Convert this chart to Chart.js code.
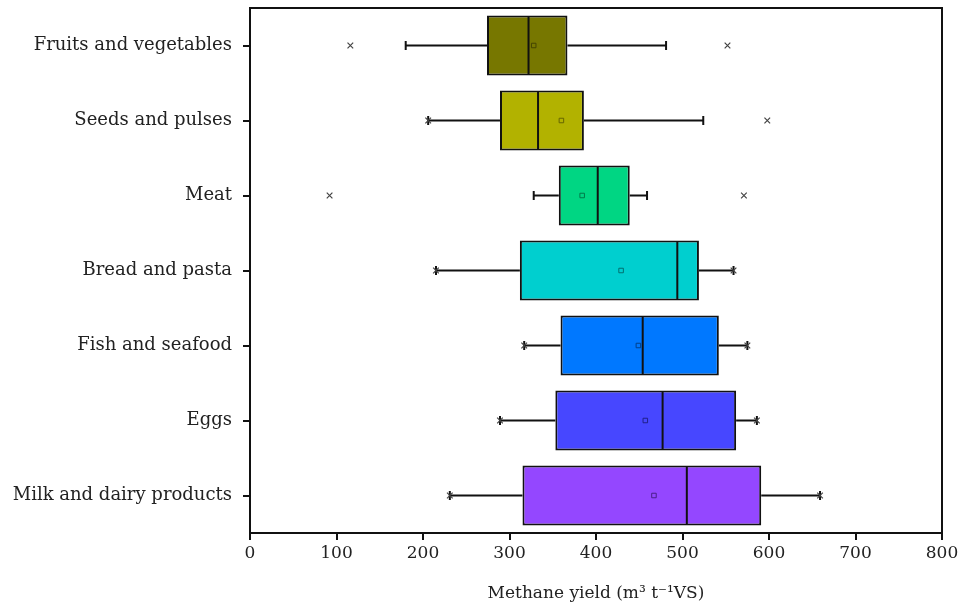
<!DOCTYPE html>
<html>
<head>
<meta charset="utf-8">
<script src="https://cdn.jsdelivr.net/npm/chart.js@4.4.0/dist/chart.umd.min.js"></script>
<style>
  html, body { margin: 0; padding: 0; background: #fff; }
  #wrap { width: 959px; height: 604px; }
</style>
</head>
<body>
<div id="wrap"><canvas id="chart"></canvas></div>
<script>
// --- données ---
const categories = ['Fruits and vegetables', 'Seeds and pulses', 'Meat', 'Bread and pasta',
    'Fish and seafood', 'Eggs', 'Milk and dairy products'];
const q1 = [274, 289, 357, 312, 359, 353, 315];
const median = [322, 333, 402, 494, 454, 477, 505];
const q3 = [367, 386, 439, 519, 542, 562, 591];
const mean = [328, 360, 384, 429, 449, 457, 467];
const whiskerLow = [180, 206, 328, 215, 317, 289, 231];
const whiskerHigh = [481, 524, 459, 559, 575, 586, 659];
const extremeLow = [116, 206, 92, 215, 317, 289, 231];
const extremeHigh = [552, 598, 571, 559, 575, 586, 659];
const xTicks = [0, 100, 200, 300, 400, 500, 600, 700, 800];

const boxColors = ['#777700', '#b2b200', '#00d683', '#00cfcf', '#0078ff', '#4747ff', '#9447ff'];
const meanColors = ['#444400', '#666600', '#007a4a', '#007070', '#00408a', '#20208a', '#4a1f8a'];

const serif = "'DejaVu Serif', 'Liberation Serif', serif";

// moustaches + médianes, dessinées via les échelles
const boxExtras = {
    id: 'boxExtras',
    afterDatasetDraw(chart, args) {
        if (args.index !== 0) return;
        const ctx = chart.ctx;
        const xs = chart.scales.x;
        const ys = chart.scales.y;
        const bars = args.meta.data;
        ctx.save();
        ctx.strokeStyle = '#111';
        ctx.lineWidth = 2;
        categories.forEach((c, i) => {
            const y = ys.getPixelForValue(i);
            const h = bars[i].height;
            const top = y - h / 2, bot = y + h / 2;
            // moustaches
            ctx.beginPath();
            ctx.moveTo(xs.getPixelForValue(whiskerLow[i]), y);
            ctx.lineTo(xs.getPixelForValue(q1[i]), y);
            ctx.moveTo(xs.getPixelForValue(q3[i]), y);
            ctx.lineTo(xs.getPixelForValue(whiskerHigh[i]), y);
            ctx.stroke();
            // embouts
            [whiskerLow[i], whiskerHigh[i]].forEach(v => {
                const px = xs.getPixelForValue(v);
                ctx.beginPath();
                ctx.moveTo(px, y - 4.5);
                ctx.lineTo(px, y + 4.5);
                ctx.stroke();
            });
            // médiane
            const mx = xs.getPixelForValue(median[i]);
            ctx.beginPath();
            ctx.moveTo(mx, top + 1);
            ctx.lineTo(mx, bot - 1);
            ctx.stroke();
        });
        ctx.restore();
    }
};

// cadre complet autour de la zone de tracé
const frame = {
    id: 'frame',
    afterDraw(chart) {
        const a = chart.chartArea;
        const ctx = chart.ctx;
        ctx.save();
        ctx.strokeStyle = '#111';
        ctx.lineWidth = 2;
        ctx.strokeRect(a.left, a.top, a.right - a.left, a.bottom - a.top);
        ctx.restore();
    }
};

const ctx = document.getElementById('chart').getContext('2d');
new Chart(ctx, {
    type: 'bar',
    data: {
        labels: categories,
        datasets: [
            {
                type: 'bar',
                label: 'IQR',
                indexAxis: 'y',
                data: categories.map((c, i) => [q1[i], q3[i]]),
                backgroundColor: boxColors,
                borderColor: '#111',
                borderWidth: 2,
                borderSkipped: false,
                barPercentage: 0.8,
                categoryPercentage: 1,
                order: 3
            },
            {
                type: 'scatter',
                label: 'Mean',
                data: categories.map((c, i) => ({ x: mean[i], y: c })),
                pointStyle: 'rect',
                pointRadius: 3.2,
                pointBackgroundColor: boxColors,
                pointBorderColor: meanColors,
                pointBorderWidth: 1,
                order: 1
            },
            {
                type: 'scatter',
                label: 'Extremes',
                data: categories.flatMap((c, i) => [{ x: extremeLow[i], y: c }, { x: extremeHigh[i], y: c }]),
                pointStyle: 'crossRot',
                pointRadius: 4,
                pointBorderColor: '#444',
                pointBorderWidth: 1.2,
                order: 0
            }
        ]
    },
    options: {
        responsive: true,
        maintainAspectRatio: false,
        animation: false,
        layout: { padding: { top: 8, right: 17, left: 0, bottom: 0 } },
        plugins: {
            legend: { display: false },
            tooltip: { enabled: false }
        },
        scales: {
            x: {
                type: 'linear',
                offset: false,
                min: 0,
                max: 800,
                afterBuildTicks: axis => { axis.ticks = xTicks.map(v => ({ value: v })); },
                afterFit: axis => { axis.height = 71; axis.paddingLeft = 0; axis.paddingRight = 0; },
                border: { display: false },
                grid: { offset: false, drawOnChartArea: false, drawTicks: true, tickLength: 7, color: '#111', lineWidth: 2 },
                ticks: { color: '#222', padding: 3, font: { family: serif, size: 17 } },
                title: {
                    display: true,
                    text: 'Methane yield (m\u00b3 t\u207b\u00b9VS)',
                    color: '#222',
                    padding: { top: 8, bottom: 0 },
                    font: { family: serif, size: 17 }
                }
            },
            y: {
                type: 'category',
                offset: true,
                afterFit: axis => { axis.width = 250; axis.paddingTop = 0; axis.paddingBottom = 0; },
                border: { display: false },
                grid: { offset: false, drawOnChartArea: false, drawTicks: true, tickLength: 7, color: '#111', lineWidth: 2 },
                ticks: { color: '#222', padding: 11, font: { family: serif, size: 18 } }
            }
        }
    },
    plugins: [boxExtras, frame]
});
</script>
</body>
</html>
